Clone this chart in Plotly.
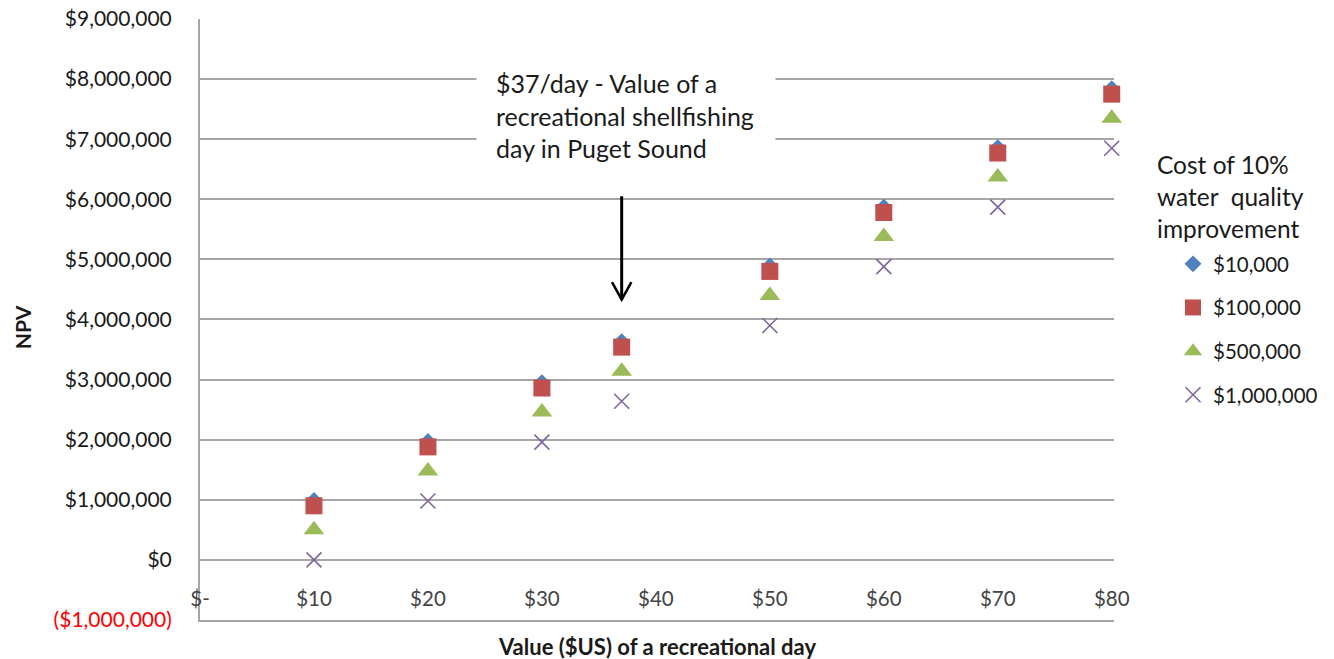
import plotly.graph_objects as go

# Value of a recreational day ($US)
day_values = [10, 20, 30, 37, 50, 60, 70, 80]

# NPV by cost of a 10% water quality improvement
npv_10k = [990000, 1970000, 2950000, 3630000, 4890000, 5870000, 6860000, 7840000]
npv_100k = [900000, 1880000, 2860000, 3540000, 4800000, 5780000, 6770000, 7750000]
npv_500k = [500000, 1480000, 2460000, 3140000, 4400000, 5380000, 6370000, 7350000]
npv_1m = [0, 980000, 1960000, 2640000, 3900000, 4880000, 5870000, 6850000]

series_names = ["$10,000", "$100,000", "$500,000", "$1,000,000"]

x_tick_vals = [0, 10, 20, 30, 40, 50, 60, 70, 80]
x_tick_text = ["$-", "$10", "$20", "$30", "$40", "$50", "$60", "$70", "$80"]

y_tick_vals = [-1000000, 0, 1000000, 2000000, 3000000, 4000000,
               5000000, 6000000, 7000000, 8000000, 9000000]
y_tick_text = ["<span style='color:#ff0000'>($1,000,000)</span>", "$0",
               "$1,000,000", "$2,000,000", "$3,000,000", "$4,000,000",
               "$5,000,000", "$6,000,000", "$7,000,000", "$8,000,000",
               "$9,000,000"]

marked_day = 37
note_text = "$37/day - Value of a<br>recreational shellfishing<br>day in Puget Sound"
legend_heading = "Cost of 10%<br>water&nbsp;&nbsp;quality<br>improvement"
x_title = "<b>Value ($US) of a recreational day</b>"
y_title = "<b>NPV</b>"

FONT = "Lato, 'Open Sans', sans-serif"
GRID = "#a6a6a6"
TEXT = "#1a1a1a"

# plot area in pixels: left 200, right 1115, top 19, bottom 620
L, R, T, B = 200, 1115, 19, 620


def px_x(p):
    return (p - L) / (R - L)


def px_y(p):
    return (B - p) / (B - T)


styles = [
    dict(symbol="diamond", size=13, color="#4F81BD"),
    dict(symbol="square", size=17, color="#C0504D"),
    dict(symbol="triangle-up", size=18, color="#9BBB59"),
    dict(symbol="x-thin", size=15, color="#8064A2", line=dict(width=1.6, color="#8064A2")),
]

fig = go.Figure()
for name, ys, st in zip(series_names, [npv_10k, npv_100k, npv_500k, npv_1m], styles):
    fig.add_trace(go.Scatter(
        x=day_values, y=ys, mode="markers", name=name, legendgroup=name,
        marker=st, cliponaxis=False,
    ))

# Arrow pointing at the $37/day column
fig.add_shape(type="path", xref="x", yref="y",
              path=f"M {marked_day},6050000 L {marked_day},4330000",
              line=dict(color="black", width=3))
fig.add_shape(type="path", xref="x", yref="y",
              path=f"M {marked_day - 0.85},4620000 L {marked_day},4330000 L {marked_day + 0.85},4620000",
              line=dict(color="black", width=2.5))

fig.add_annotation(x=marked_day + 0.4, y=7400000, xref="x", yref="y",
                   text=note_text, showarrow=False, align="left",
                   bgcolor="white", borderpad=19, width=260,
                   font=dict(family=FONT, size=25, color=TEXT))

fig.add_annotation(x=px_x(1156), y=px_y(148), xref="paper", yref="paper",
                   text=legend_heading, showarrow=False, align="left",
                   xanchor="left", yanchor="top",
                   font=dict(family=FONT, size=24.5, color=TEXT))

# axis titles
fig.add_annotation(x=px_x(657), y=px_y(646), xref="paper", yref="paper",
                   text=x_title, showarrow=False, xanchor="center", yanchor="middle",
                   font=dict(family=FONT, size=22, color=TEXT))
fig.add_annotation(x=px_x(22), y=px_y(327), xref="paper", yref="paper",
                   text=y_title, showarrow=False, textangle=-90,
                   xanchor="center", yanchor="middle",
                   font=dict(family=FONT, size=21, color=TEXT))

fig.update_layout(
    width=1334, height=659,
    margin=dict(l=L, r=1334 - R, t=T, b=659 - B),
    paper_bgcolor="white", plot_bgcolor="white",
    font=dict(family=FONT, size=21, color=TEXT),
    showlegend=True,
    legend=dict(x=1.0634, y=px_y(244), xanchor="left", yanchor="top",
                tracegroupgap=14, font=dict(size=20.5), itemwidth=30),
    xaxis=dict(range=[0, 80.2], tickvals=x_tick_vals, ticktext=x_tick_text,
               ticklabelposition="inside", ticklabeloverflow="allow",
               ticklabelstandoff=11, ticks="", showgrid=False, automargin=False,
               showline=True, linecolor=GRID, linewidth=2, zeroline=False,
               tickfont=dict(size=20.5)),
    yaxis=dict(range=[-1000500, 9000000], tickvals=y_tick_vals, ticktext=y_tick_text,
               ticklabeloverflow="allow", automargin=False,
               showgrid=True, gridcolor=GRID, gridwidth=1.5, zeroline=False,
               showline=True, linecolor=GRID, linewidth=2, ticks="",
               ticklabelstandoff=22, tickfont=dict(size=21)),
)

fig.write_html("out.html")
